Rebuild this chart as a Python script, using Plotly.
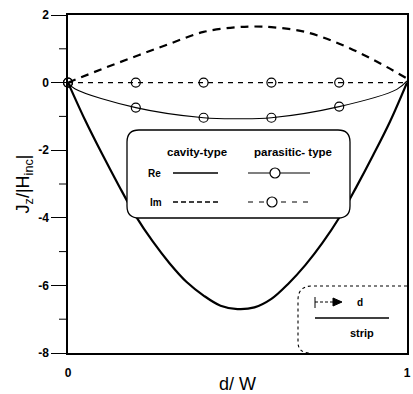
import plotly.graph_objects as go

# ---- data ----
x_cav = [0, 0.05, 0.1, 0.15, 0.2, 0.25, 0.3, 0.35, 0.4, 0.45, 0.5, 0.55, 0.6, 0.65, 0.7, 0.75, 0.8, 0.85, 0.9, 0.95, 1.0]
re_cav = [0, -1.1, -2.1, -3.05, -3.95, -4.7, -5.35, -5.9, -6.3, -6.6, -6.7, -6.65, -6.4, -5.95, -5.4, -4.75, -4.0, -3.1, -2.15, -1.15, 0]
x_im_cav = [0, 0.1, 0.2, 0.3, 0.4, 0.5, 0.55, 0.6, 0.7, 0.8, 0.9, 1.0]
im_cav = [0, 0.4, 0.78, 1.15, 1.5, 1.64, 1.66, 1.64, 1.5, 1.15, 0.68, 0.12]

x_par_line = [0, 0.02, 0.2, 0.4, 0.5, 0.6, 0.8, 0.97, 1.0]
re_par_line = [0, -0.18, -0.74, -1.04, -1.07, -1.04, -0.71, -0.2, 0.05]
x_par_pts = [0, 0.2, 0.4, 0.6, 0.8]
re_par_pts = [0, -0.74, -1.04, -1.04, -0.71]
x_im_par = [0, 1.0]
im_par_line = [0, 0]
im_par_pts = [0, 0, 0, 0, 0]

y_ticks = [-8, -6, -4, -2, 0, 2]
x_ticks = [0, 1]

# ---- geometry helpers (pixel -> data) ----
L, R, T, B = 68, 407, 15, 353
def X(px):
    return (px - L) / (R - L)
def Y(py):
    return 2 - (py - T) / ((B - T) / 10)

def rrect(x0, y0, x1, y1, r):
    pts = (f"M {X(x0+r)},{Y(y0)} L {X(x1-r)},{Y(y0)} Q {X(x1)},{Y(y0)} {X(x1)},{Y(y0+r)} "
           f"L {X(x1)},{Y(y1-r)} Q {X(x1)},{Y(y1)} {X(x1-r)},{Y(y1)} "
           f"L {X(x0+r)},{Y(y1)} Q {X(x0)},{Y(y1)} {X(x0)},{Y(y1-r)} "
           f"L {X(x0)},{Y(y0+r)} Q {X(x0)},{Y(y0)} {X(x0+r)},{Y(y0)} Z")
    return pts

fig = go.Figure()
fig.add_trace(go.Scatter(x=x_cav, y=re_cav, mode="lines", line=dict(color="black", width=2.2, shape="spline"), cliponaxis=False))
fig.add_trace(go.Scatter(x=x_im_cav, y=im_cav, mode="lines", line=dict(color="black", width=2.2, dash="8px,6px", shape="spline"), cliponaxis=False))
fig.add_trace(go.Scatter(x=x_par_line, y=re_par_line, mode="lines", line=dict(color="black", width=1.1, shape="spline"), cliponaxis=False))
fig.add_trace(go.Scatter(x=x_im_par, y=im_par_line, mode="lines", line=dict(color="black", width=1.1, dash="5px,5px"), cliponaxis=False))
fig.add_trace(go.Scatter(x=x_par_pts, y=re_par_pts, mode="markers", marker=dict(symbol="circle-open", size=9, color="black", line=dict(width=1.2)), cliponaxis=False))
fig.add_trace(go.Scatter(x=x_par_pts, y=im_par_pts, mode="markers", marker=dict(symbol="circle-open", size=9, color="black", line=dict(width=1.2)), cliponaxis=False))

shapes = []
# legend box
shapes.append(dict(type="path", path=rrect(127, 130, 350, 218, 12), xref="x", yref="y",
                   fillcolor="white", line=dict(color="black", width=1.3), layer="above"))
# legend samples
shapes.append(dict(type="line", xref="x", yref="y", x0=X(173), x1=X(218), y0=Y(173), y1=Y(173), line=dict(color="black", width=1.3), layer="above"))
shapes.append(dict(type="line", xref="x", yref="y", x0=X(173), x1=X(218), y0=Y(202), y1=Y(202), line=dict(color="black", width=1.3, dash="5px,3px"), layer="above"))
shapes.append(dict(type="line", xref="x", yref="y", x0=X(248), x1=X(310), y0=Y(173), y1=Y(173), line=dict(color="black", width=1.1), layer="above"))
shapes.append(dict(type="line", xref="x", yref="y", x0=X(248), x1=X(310), y0=Y(202), y1=Y(202), line=dict(color="black", width=1.1, dash="5px,6px"), layer="above"))
for cx, cy in [(275, 173), (272, 202)]:
    shapes.append(dict(type="circle", xref="x", yref="y", x0=X(cx-5), x1=X(cx+5), y0=Y(cy-5), y1=Y(cy+5),
                       fillcolor="white", line=dict(color="black", width=1.2), layer="above"))
# inset dashed box
p = (f"M {X(407)},{Y(286)} L {X(312)},{Y(286)} Q {X(298)},{Y(286)} {X(298)},{Y(300)} "
     f"L {X(298)},{Y(342)} Q {X(298)},{Y(353)} {X(310)},{Y(353)}")
shapes.append(dict(type="path", path=p, xref="x", yref="y", line=dict(color="black", width=1.1, dash="3px,3px"), layer="above"))
# inset arrow
shapes.append(dict(type="line", xref="x", yref="y", x0=X(315), x1=X(315), y0=Y(297), y1=Y(308), line=dict(color="black", width=1), layer="above"))
shapes.append(dict(type="line", xref="x", yref="y", x0=X(315), x1=X(334), y0=Y(302), y1=Y(302), line=dict(color="black", width=1, dash="3px,2px"), layer="above"))
shapes.append(dict(type="path", xref="x", yref="y", path=f"M {X(333)},{Y(298)} L {X(342)},{Y(302)} L {X(333)},{Y(306)} Z",
                   fillcolor="black", line=dict(color="black", width=1), layer="above"))
shapes.append(dict(type="line", xref="x", yref="y", x0=X(315), x1=X(389), y0=Y(318), y1=Y(318), line=dict(color="black", width=1.6), layer="above"))
# minor y ticks
for v in [-7, -5, -3, -1, 1]:
    shapes.append(dict(type="line", xref="paper", yref="y", x0=-9/339, x1=0, y0=v, y1=v, line=dict(color="black", width=1)))

fig.update_layout(shapes=shapes)

bold = dict(family="Liberation Sans, Arial", size=12, color="black")
ann = []
def txt(px, py, s, size=11, xanchor="center", weight=True):
    f = dict(family="Liberation Sans, Arial", size=size, color="black")
    ann.append(dict(x=X(px), y=Y(py), xref="x", yref="y", text=f"<b>{s}</b>" if weight else s,
                    showarrow=False, font=f, xanchor=xanchor, yanchor="middle"))
txt(197, 152, "cavity-type", 11.5)
txt(293, 152, "parasitic- type", 11.5)
txt(146, 173, "Re", 10, "left")
txt(148, 202, "Im", 10, "left")
txt(355, 302, "d", 10, "left")
txt(362, 333, "strip", 11)
fig.update_layout(annotations=ann)

fig.update_layout(
    width=413, height=394,
    margin=dict(l=L, r=413 - R, t=T, b=394 - B),
    paper_bgcolor="white", plot_bgcolor="white",
    showlegend=False,
    xaxis=dict(range=[0, 1], tickvals=x_ticks, ticktext=["<b>0</b>", "<b>1</b>"], ticks="",
               showgrid=False, zeroline=False, showline=True, linecolor="black", linewidth=1.5, mirror=True,
               tickfont=bold, ticklabelstandoff=8, automargin=False,
               title=dict(text="d/ W", font=dict(family="Liberation Sans, Arial", size=18, color="black"), standoff=4)),
    yaxis=dict(range=[-8, 2], tickvals=y_ticks, ticktext=[f"<b>{v}</b>" for v in y_ticks], ticks="outside",
               ticklen=15, tickwidth=1.2, tickcolor="black", automargin=False,
               showgrid=False, zeroline=False, showline=True, linecolor="black", linewidth=1.5, mirror=True,
               tickfont=bold,
               title=dict(text="J<sub>z</sub>/|H<sub>inc</sub>|", font=dict(family="Liberation Sans, Arial", size=18, color="black"), standoff=4)),
)

fig.write_html("out.html")
